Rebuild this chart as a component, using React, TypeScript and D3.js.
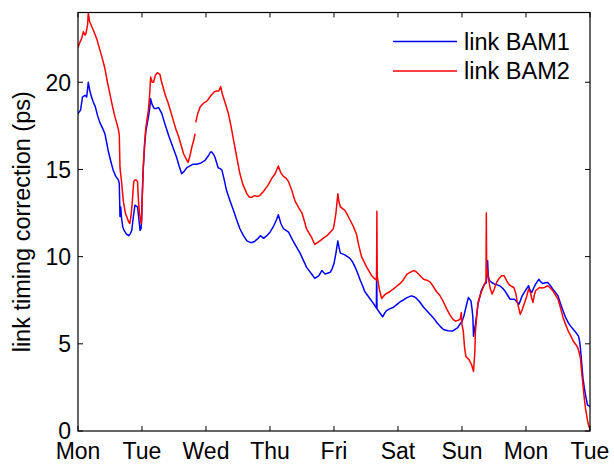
import React from "react";
import * as d3 from "d3";

// Weekly link timing correction, in picoseconds, against elapsed days from Monday 00:00.
const dayTicks = [0, 1, 2, 3, 4, 5, 6, 7, 8];
const dayLabels = ["Mon", "Tue", "Wed", "Thu", "Fri", "Sat", "Sun", "Mon", "Tue"];
const psTicks = [0, 5, 10, 15, 20];

const seriesNames = ["link BAM1", "link BAM2"];
const seriesColors = ["#0000ff", "#ff0000"];

// link BAM1: [day, ps]
const bam1: [number, number][] = [
  [0, 18.2], [0.04, 18.4], [0.06, 18.9], [0.07, 19.15], [0.09, 19.2], [0.11, 19.25], [0.135, 19.15],
  [0.15, 19.6], [0.16, 20.0], [0.18, 19.6], [0.2, 19.3], [0.235, 18.9], [0.27, 18.6], [0.305, 18.1],
  [0.34, 17.7], [0.38, 17.4], [0.42, 17.05], [0.445, 16.6], [0.47, 16.1], [0.51, 15.5], [0.55, 14.95],
  [0.59, 14.6], [0.63, 14.4], [0.645, 14.2], [0.656, 12.3], [0.668, 12.85], [0.68, 12.2], [0.7, 11.7],
  [0.72, 11.5], [0.755, 11.3], [0.79, 11.2], [0.815, 11.3], [0.84, 11.5], [0.865, 12.3], [0.89, 12.95],
  [0.91, 12.9], [0.93, 12.85], [0.95, 12.2], [0.97, 11.5], [0.985, 11.6], [0.995, 12.1], [1.005, 13.6],
  [1.02, 15.1], [1.04, 16.3], [1.06, 17.2], [1.08, 17.6], [1.1, 18.0], [1.12, 18.5], [1.135, 19.05],
  [1.16, 18.7], [1.19, 18.5], [1.225, 18.5], [1.26, 18.55], [1.31, 18.2], [1.35, 17.7], [1.39, 17.25],
  [1.42, 16.9], [1.46, 16.5], [1.5, 16.1], [1.54, 15.7], [1.58, 15.2], [1.62, 14.75], [1.66, 14.9],
  [1.7, 15.1], [1.75, 15.2], [1.8, 15.3], [1.85, 15.3], [1.91, 15.35], [1.98, 15.5], [2.04, 15.8],
  [2.07, 16.0], [2.09, 16.0], [2.12, 15.85], [2.14, 15.7], [2.165, 15.4], [2.19, 15.1], [2.22, 15.05],
  [2.25, 14.95], [2.285, 14.4], [2.32, 13.8], [2.375, 13.2], [2.43, 12.65], [2.48, 12.1], [2.53, 11.6],
  [2.585, 11.2], [2.64, 10.9], [2.7, 10.8], [2.75, 10.85], [2.8, 11.0], [2.85, 11.2], [2.9, 11.05],
  [2.95, 11.2], [3.0, 11.4], [3.05, 11.7], [3.1, 12.1], [3.13, 12.4], [3.17, 11.9], [3.21, 11.6],
  [3.25, 11.5], [3.29, 11.4], [3.36, 10.9], [3.415, 10.55], [3.47, 10.2], [3.52, 9.8], [3.57, 9.4],
  [3.61, 9.2], [3.65, 9.0], [3.7, 8.75], [3.76, 8.9], [3.81, 9.2], [3.86, 9.0], [3.9, 9.05], [3.94, 9.1],
  [3.97, 9.3], [4.0, 9.6], [4.03, 10.2], [4.06, 10.9], [4.08, 10.5], [4.1, 10.2], [4.17, 10.1],
  [4.25, 9.9], [4.29, 9.7], [4.33, 9.4], [4.37, 9.05], [4.41, 8.65], [4.45, 8.3], [4.48, 8.0],
  [4.52, 7.8], [4.56, 7.6], [4.61, 7.35], [4.662, 7.05], [4.667, 9.4], [4.672, 7.0], [4.72, 6.75],
  [4.76, 6.55], [4.79, 6.75], [4.82, 6.9], [4.87, 7.0], [4.93, 7.1], [4.98, 7.25], [5.03, 7.4],
  [5.08, 7.5], [5.14, 7.65], [5.21, 7.75], [5.25, 7.7], [5.29, 7.6], [5.34, 7.4], [5.4, 7.1],
  [5.45, 6.9], [5.5, 6.7], [5.55, 6.5], [5.61, 6.21], [5.66, 6.0], [5.71, 5.82], [5.78, 5.75],
  [5.85, 5.73], [5.93, 5.92], [6.0, 6.3], [6.03, 6.6], [6.06, 7.08], [6.1, 7.66], [6.14, 7.46],
  [6.16, 6.9], [6.17, 6.5], [6.18, 5.44], [6.195, 5.8], [6.21, 6.11], [6.25, 7.27], [6.3, 8.04],
  [6.35, 8.42], [6.38, 8.5], [6.4, 9.78], [6.41, 8.9], [6.43, 8.62], [6.47, 8.5], [6.51, 8.42],
  [6.55, 8.38], [6.59, 8.33], [6.63, 8.2], [6.67, 8.04], [6.71, 7.8], [6.75, 7.56], [6.82, 7.56],
  [6.86, 7.4], [6.89, 7.27], [6.94, 7.75], [6.99, 8.05], [7.04, 8.33], [7.06, 8.1], [7.09, 7.94],
  [7.12, 8.2], [7.15, 8.42], [7.2, 8.7], [7.23, 8.55], [7.26, 8.46], [7.3, 8.5], [7.34, 8.52],
  [7.38, 8.35], [7.42, 8.13], [7.46, 7.95], [7.5, 7.75], [7.54, 7.3], [7.58, 6.88], [7.62, 6.5],
  [7.66, 6.21], [7.7, 6.0], [7.74, 5.82], [7.78, 5.65], [7.82, 5.44], [7.835, 5.2], [7.85, 4.77],
  [7.87, 3.9], [7.89, 3.03], [7.91, 2.5], [7.93, 2.06], [7.95, 1.7], [7.96, 1.49], [7.98, 1.45],
  [8.0, 1.4],
];

// link BAM2: [day, ps]; a null value marks a gap in the record
const bam2: [number, number | null][] = [
  [0, 22.0], [0.03, 22.3], [0.057, 22.5], [0.083, 22.9], [0.11, 22.7], [0.125, 22.8], [0.15, 23.3],
  [0.161, 24.0], [0.18, 23.5], [0.214, 23.2], [0.25, 22.9], [0.292, 22.5], [0.33, 22.0], [0.37, 21.5],
  [0.42, 20.8], [0.46, 20.0], [0.5, 19.3], [0.54, 18.6], [0.578, 18.0], [0.61, 17.6], [0.63, 17.3],
  [0.645, 17.0], [0.656, 15.1], [0.68, 14.3], [0.708, 13.2], [0.74, 12.5], [0.76, 12.3], [0.79, 12.0],
  [0.81, 11.9], [0.83, 12.4], [0.85, 13.2], [0.87, 14.3], [0.89, 14.4], [0.91, 14.4], [0.93, 14.3],
  [0.945, 13.2], [0.96, 12.5], [0.98, 12.0], [0.99, 11.9], [1.005, 13.5], [1.02, 15.1], [1.04, 16.5],
  [1.06, 17.4], [1.08, 17.9], [1.1, 18.4], [1.12, 19.3], [1.135, 20.3], [1.16, 20.0], [1.18, 20.0],
  [1.21, 20.4], [1.24, 20.55], [1.28, 20.45], [1.3, 20.1], [1.33, 19.7], [1.37, 19.2], [1.41, 18.8],
  [1.45, 18.3], [1.49, 17.8], [1.53, 17.3], [1.57, 16.9], [1.61, 16.4], [1.65, 15.9], [1.69, 15.6],
  [1.72, 15.4], [1.75, 15.8], [1.78, 16.3], [1.81, 16.7], [1.83, 17.05], [1.835, null], [1.84, 17.7],
  [1.87, 18.2], [1.91, 18.6], [1.96, 18.8], [2.01, 18.9], [2.05, 19.1], [2.09, 19.3], [2.13, 19.45],
  [2.17, 19.5], [2.2, 19.5], [2.23, 19.75], [2.25, 19.4], [2.27, 19.15], [2.31, 18.7], [2.35, 18.2],
  [2.39, 17.5], [2.43, 16.7], [2.48, 15.7], [2.53, 14.75], [2.58, 14.1], [2.64, 13.6], [2.68, 13.4],
  [2.71, 13.4], [2.76, 13.5], [2.8, 13.45], [2.84, 13.5], [2.9, 13.75], [2.97, 14.1], [3.03, 14.5],
  [3.08, 14.75], [3.13, 15.2], [3.17, 14.8], [3.21, 14.6], [3.25, 14.5], [3.29, 14.3], [3.34, 13.8],
  [3.39, 13.2], [3.45, 12.8], [3.5, 12.5], [3.54, 12.0], [3.57, 11.6], [3.61, 11.35], [3.65, 11.1],
  [3.68, 10.85], [3.7, 10.7], [3.74, 10.8], [3.78, 10.9], [3.83, 11.05], [3.89, 11.2], [3.94, 11.4],
  [3.99, 11.6], [4.01, 12.0], [4.03, 12.5], [4.06, 13.6], [4.08, 13.1], [4.1, 12.85], [4.17, 12.65],
  [4.21, 12.4], [4.25, 12.1], [4.3, 11.75], [4.35, 11.3], [4.39, 10.6], [4.43, 10.0], [4.47, 9.7],
  [4.51, 9.4], [4.55, 9.15], [4.59, 8.9], [4.63, 8.75], [4.665, 8.65], [4.67, 12.6], [4.675, 8.9],
  [4.71, 8.1], [4.745, 7.6], [4.79, 7.8], [4.83, 7.9], [4.875, 8.0], [4.93, 8.15], [4.98, 8.3],
  [5.03, 8.45], [5.08, 8.65], [5.14, 9.0], [5.19, 9.1], [5.24, 9.2], [5.28, 9.15], [5.32, 9.0],
  [5.36, 8.85], [5.4, 8.7], [5.45, 8.65], [5.5, 8.55], [5.55, 8.3], [5.6, 8.0], [5.65, 7.8],
  [5.71, 7.4], [5.76, 7.0], [5.82, 6.6], [5.86, 6.4], [5.9, 6.3], [5.94, 6.35], [5.97, 6.4],
  [5.99, 6.8], [6.0, 6.1], [6.02, 5.73], [6.04, 4.8], [6.06, 4.28], [6.11, 4.09], [6.15, 3.8],
  [6.18, 3.41], [6.2, 4.5], [6.21, 5.73], [6.25, 7.37], [6.3, 7.94], [6.35, 8.42], [6.375, 8.6],
  [6.38, 12.5], [6.385, 9.4], [6.41, 8.8], [6.44, 8.2], [6.47, 7.85], [6.5, 8.1], [6.54, 8.52],
  [6.58, 8.75], [6.62, 8.9], [6.66, 8.9], [6.7, 8.6], [6.73, 8.42], [6.77, 8.3], [6.81, 8.23],
  [6.84, 7.9], [6.86, 7.46], [6.89, 7.0], [6.91, 6.69], [6.94, 6.95], [6.97, 7.27], [7.01, 7.7],
  [7.04, 8.14], [7.07, 7.94], [7.09, 7.6], [7.11, 7.37], [7.13, 7.8], [7.15, 8.04], [7.21, 8.23],
  [7.25, 8.2], [7.29, 8.23], [7.34, 8.33], [7.38, 8.2], [7.42, 8.04], [7.46, 7.8], [7.5, 7.56],
  [7.54, 7.05], [7.58, 6.5], [7.62, 6.1], [7.66, 5.73], [7.7, 5.45], [7.74, 5.15], [7.78, 4.95],
  [7.81, 4.77], [7.83, 4.5], [7.85, 4.19], [7.87, 3.4], [7.89, 2.64], [7.91, 1.9], [7.93, 1.29],
  [7.95, 0.85], [7.96, 0.62], [7.98, 0.3], [8.0, 0.1],
];

const W = 614;
const H = 466;
const plot = { left: 78, right: 590, top: 12.5, bottom: 431 };
const FONT = "'Liberation Sans', Arial, Helvetica, sans-serif";
const TICK = 5;

export default function App() {
  const x = d3.scaleLinear().domain([0, 8]).range([plot.left, plot.right]);
  const y = d3.scaleLinear().domain([0, 24]).range([plot.bottom, plot.top]);

  const line = d3
    .line<[number, number | null]>()
    .defined((d) => d[1] !== null)
    .x((d) => x(d[0]))
    .y((d) => y(d[1] as number));

  const series = [bam1 as [number, number | null][], bam2];

  return (
    <svg
      width={W}
      height={H}
      style={{ position: "fixed", left: 0, top: 0, background: "#fff" }}
      fontFamily={FONT}
    >
      <defs>
        <clipPath id="plot-area">
          <rect x={plot.left} y={plot.top} width={plot.right - plot.left} height={plot.bottom - plot.top} />
        </clipPath>
      </defs>

      <g clipPath="url(#plot-area)">
        {series.map((s, i) => (
          <path
            key={seriesNames[i]}
            d={line(s) ?? ""}
            fill="none"
            stroke={seriesColors[i]}
            strokeWidth={1.5}
            strokeLinejoin="round"
          />
        ))}
      </g>

      {/* axes box with inward ticks on all four sides */}
      <rect
        x={plot.left}
        y={plot.top}
        width={plot.right - plot.left}
        height={plot.bottom - plot.top}
        fill="none"
        stroke="#000"
        strokeWidth={1.2}
      />
      {dayTicks.map((t, i) => (
        <g key={`xt${i}`}>
          <line x1={x(t)} x2={x(t)} y1={plot.bottom} y2={plot.bottom - TICK} stroke="#000" strokeWidth={1} />
          <line x1={x(t)} x2={x(t)} y1={plot.top} y2={plot.top + TICK} stroke="#000" strokeWidth={1} />
          <text x={x(t)} y={459} textAnchor="middle" fontSize={23} fill="#000">
            {dayLabels[i]}
          </text>
        </g>
      ))}
      {psTicks.map((t) => (
        <g key={`yt${t}`}>
          <line x1={plot.left} x2={plot.left + TICK} y1={y(t)} y2={y(t)} stroke="#000" strokeWidth={1} />
          <line x1={plot.right} x2={plot.right - TICK} y1={y(t)} y2={y(t)} stroke="#000" strokeWidth={1} />
          <text x={71} y={y(t)} dy="0.36em" textAnchor="end" fontSize={23} fill="#000">
            {t}
          </text>
        </g>
      ))}

      <text
        transform={`translate(30,${(plot.top + plot.bottom) / 2}) rotate(-90)`}
        textAnchor="middle"
        fontSize={23.5}
        fill="#000"
      >
        link timing correction (ps)
      </text>

      {/* legend */}
      {seriesNames.map((name, i) => {
        const ly = 41.5 + i * 29.5;
        return (
          <g key={`lg${i}`}>
            <line x1={393} x2={457} y1={ly} y2={ly} stroke={seriesColors[i]} strokeWidth={1.3} />
            <text x={464} y={ly} dy="0.36em" fontSize={23.5} fill="#000">
              {name}
            </text>
          </g>
        );
      })}
    </svg>
  );
}
